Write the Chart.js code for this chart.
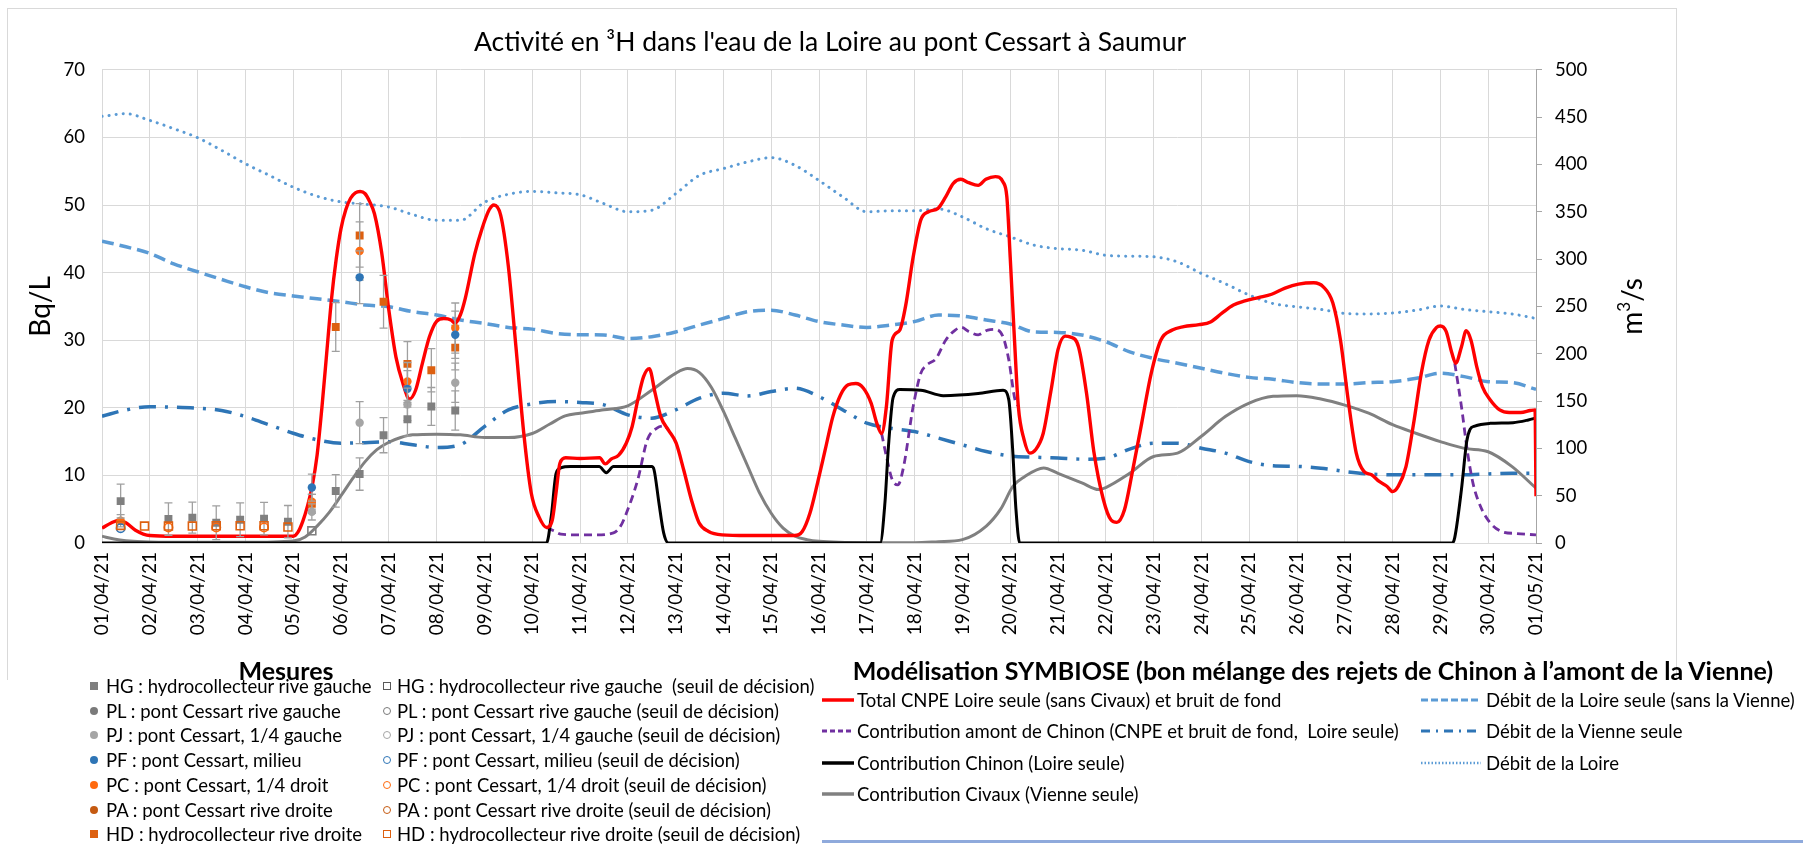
<!DOCTYPE html>
<html>
<head>
<meta charset="utf-8">
<script src="https://cdn.jsdelivr.net/npm/chart.js@4.4.1/dist/chart.umd.min.js"></script>
<style>
html,body{margin:0;padding:0;background:#fff;}
#wrap{position:relative;width:1803px;height:844px;overflow:hidden;background:#fff;}
#c{position:absolute;left:0;top:0;}
.t{position:absolute;font-family:Lato,sans-serif;font-size:18.5px;color:#000;white-space:pre;line-height:1;transform:translateY(-50%);}
.h{position:absolute;font-family:Lato,sans-serif;font-weight:bold;font-size:25px;color:#000;white-space:pre;line-height:1;transform:translate(-50%,-50%);}
.sym{position:absolute;box-sizing:border-box;}
.ln{position:absolute;background:#D9D9D9;}
svg{position:absolute;overflow:visible;}
</style>
</head>
<body>
<div id="wrap">
<canvas id="c" width="1803" height="844"></canvas>
<div id="legend"></div>
</div>
<script>
// ---------- tick labels ----------
const tickLabels = ['01/04/21','02/04/21','03/04/21','04/04/21','05/04/21','06/04/21','07/04/21','08/04/21','09/04/21','10/04/21',
  '11/04/21','12/04/21','13/04/21','14/04/21','15/04/21','16/04/21','17/04/21','18/04/21','19/04/21','20/04/21',
  '21/04/21','22/04/21','23/04/21','24/04/21','25/04/21','26/04/21','27/04/21','28/04/21','29/04/21','30/04/21','01/05/21'];

// ---------- model: Total CNPE Loire seule (Bq/L) ----------
const totalDays = [0,0.2,0.35,0.5,0.7,1,1.5,2,3,4,4.1,4.2,4.3,4.4,4.5,4.6,4.7,4.8,4.9,5,5.1,5.2,5.3,5.4,5.5,5.6,5.7,5.85,6,6.15,6.3,6.43,6.56,6.7,6.85,7,7.15,7.3,7.38,7.5,7.6,7.8,7.95,8.1,8.2,8.34,8.5,8.66,8.82,8.98,9.14,9.3,9.42,9.5,9.58,9.7,10,10.41,10.53,10.65,10.81,10.97,11.09,11.21,11.33,11.45,11.57,11.69,11.85,12.01,12.17,12.33,12.49,12.69,12.97,13.5,14,14.49,14.65,14.81,14.97,15.13,15.29,15.45,15.61,15.77,15.93,16.09,16.21,16.31,16.41,16.53,16.69,16.81,16.97,17.13,17.29,17.49,17.65,17.81,17.97,18.13,18.33,18.49,18.69,18.85,18.93,19,19.09,19.17,19.29,19.41,19.53,19.69,19.85,20,20.15,20.25,20.43,20.6,20.75,20.95,21.11,21.23,21.39,21.55,21.75,21.95,22.15,22.39,22.63,22.95,23.19,23.43,23.67,23.91,24.19,24.47,24.75,25.03,25.35,25.55,25.75,25.91,26.07,26.24,26.4,26.56,26.72,26.88,27,27.12,27.28,27.44,27.6,27.76,27.92,28,28.12,28.24,28.32,28.44,28.54,28.64,28.76,28.88,29.04,29.24,29.44,29.68,29.88,29.98,30];
const totalBq = [2.2,3.0,3.35,3.0,1.9,1.1,1.0,1.0,1.0,1.0,1.6,3.2,5.5,8.5,13,20,28,36,42,46.5,49.3,51,51.8,52,51.7,50.5,48.7,43,34.5,27.5,23.5,21.3,22.6,26.5,30.5,32.8,33.2,33.0,32.5,33.8,36.2,42.8,46.5,49.3,50.0,48.5,41,29,16.5,7.4,3.9,2.3,3.4,7.5,11.8,12.6,12.5,12.6,11.7,12.4,13.0,14.8,17.2,21.2,24.6,25.8,22.2,18.7,16.7,14.8,10.8,6.4,3.0,1.7,1.2,1.1,1.1,1.1,1.7,4.4,8.9,13.8,18.7,21.9,23.4,23.6,22.9,20.7,17.7,16.2,20.2,30.0,31.5,35.0,42.3,47.8,49.0,49.5,51.2,53.2,53.8,53.3,52.9,53.8,54.2,53.4,51.2,42.3,30,20.2,15.3,13.3,13.8,16.2,22.4,28.6,30.6,30.5,29.0,22.0,13.5,6.4,3.4,3.05,4.9,10.3,17.7,25.1,30.0,31.5,32.0,32.3,32.7,34.0,35.2,35.8,36.3,36.8,37.7,38.3,38.5,37.9,35.5,30.0,21.2,13.3,10.6,10.1,9.1,8.4,7.6,8.4,11.3,17.7,25.1,30.0,31.9,32.1,31.3,28.1,26.6,29.0,31.4,30.0,26.1,23.1,21.2,19.7,19.3,19.3,19.6,19.7,6.9];

// ---------- model: Contribution Chinon (Bq/L) ----------
const chinonDays = [0,9.3,9.4,9.5,9.6,9.8,10.4,10.55,10.7,11.5,11.55,11.65,11.75,11.85,16.28,16.38,16.45,16.55,16.69,17.13,17.6,18.33,18.85,18.97,19.05,19.12,19.2,28.25,28.3,28.44,28.55,28.62,28.72,29.04,29.52,29.84,30];
const chinonBq = [0,0,4,10.3,11.1,11.3,11.3,10.4,11.3,11.3,10.8,6,1.5,0,0,6,14,21.5,22.7,22.6,21.8,22.1,22.6,21.2,14,5,0,0,0.8,7.9,15.0,16.8,17.3,17.7,17.8,18.2,18.5];

// ---------- model: Contribution amont de Chinon (Bq/L), null = not shown ----------
const amontDays = [9.3,9.45,9.6,9.93,10.3,10.7,10.85,10.97,11.21,11.41,11.61,11.77,11.85,14,16.31,16.41,16.53,16.65,16.77,16.97,17.13,17.25,17.45,17.65,17.85,17.98,18.13,18.33,18.53,18.69,18.85,18.97,19.1,19.17,24,28.3,28.44,28.56,28.68,28.84,29.04,29.28,29.6,30];
const amontBq = [2.3,1.8,1.3,1.2,1.2,1.5,2.5,4.4,9.4,15.3,17.0,17.3,16.7,null,16.2,12.8,9.4,8.6,11.3,20.2,25.1,26.3,27.3,30.0,31.5,31.9,31.3,30.8,31.5,31.6,30.5,27.1,21.2,20.2,null,26.6,20.2,13.8,8.9,5.4,3.0,1.7,1.4,1.2];

// ---------- model: Contribution Civaux (Bq/L) ----------
const civauxDays = [0,0.25,0.5,1,2,3,4,4.25,4.5,4.75,5,5.25,5.5,5.75,6,6.25,6.5,7,7.5,8,8.5,9,9.37,9.69,10,10.5,11,11.5,12,12.25,12.5,12.75,13,13.25,13.5,13.75,14,14.25,14.5,14.75,15,16,17,17.5,18,18.5,18.8,19.06,19.3,19.7,20,20.5,20.85,21,21.5,22,22.5,23,23.5,24,24.5,25,25.5,26,26.5,27,27.5,28,28.5,29,29.5,30];
const civauxBq = [1.0,0.6,0.35,0.15,0.1,0.1,0.3,0.9,2.5,4.5,7.0,9.6,12.0,13.8,14.9,15.6,16.0,16.1,16.0,15.6,15.6,16.2,17.6,18.8,19.2,19.7,20.3,22.6,25.1,25.8,25.2,23.0,19.5,15.5,11.5,7.5,4.4,2.2,1.0,0.5,0.25,0.05,0.05,0.2,0.5,2.5,5.0,8.4,9.8,11.1,10.3,8.9,7.9,8.2,10.3,12.8,13.3,15.8,18.7,20.7,21.7,21.8,21.3,20.4,19.2,17.5,16.2,15.0,14.0,13.5,11.3,8.1];

// ---------- flows (m3/s), every half day ----------
const flowDays = [0,0.5,1,1.5,2,2.5,3,3.5,4,4.5,5,5.5,6,6.5,7,7.5,8,8.5,9,9.5,10,10.5,11,11.5,12,12.5,13,13.5,14,14.5,15,15.5,16,16.5,17,17.5,18,18.5,19,19.5,20,20.5,21,21.5,22,22.5,23,23.5,24,24.5,25,25.5,26,26.5,27,27.5,28,28.5,29,29.5,30];
const loireSeuleQ = [319,313,306,295,286.6,278.5,270.7,264.4,261,258,255,251.4,249.6,244.4,240.9,235.6,232,227.8,226,221.5,220,219.8,216,218,223,230.3,237.3,244.4,246,240.9,234,230.3,227.8,230.3,234,240.9,239.8,235.6,231.4,223,222.5,219.8,212.7,202,195,190,184.6,179.3,175,173,169.5,168,168,169.5,170.5,174,179.3,175.8,170.5,169.5,162.4];
const vienneQ = [134,140.6,144,143.5,142.4,140,133.6,124.8,116,109,105.5,106,107,103.7,101,104,123,140.6,147,149.4,148.5,146,135.4,131.9,140.6,153,158.2,155.4,160,163.5,154.7,140.6,126.6,121.3,117.8,110.8,103.7,96.7,92,90.7,89.7,88.6,89.7,99.2,105.5,105.5,100.2,95,86,81.6,81,79,75.6,73,72,72,72,72,73,73.8,73.8];
const loireQ = [450.8,453.6,446.5,437.8,428.3,415,400.8,388.5,376,366.4,360.4,358,355,347,341,341,360,368.5,371.5,370,368,358.6,350,351.6,369,388.5,395.6,402.6,407.2,399,383,365.7,350,351,351,353,344.6,332,323.5,314.7,311,309.4,304,303,302.4,297,284.8,274,262,253,249.6,246.8,242.6,242,243,246,250.4,246.8,244.4,242,237.3];

// ---------- measurements (Bq/L) ----------
const mesDays = [0.39,0.89,1.39,1.89,2.39,2.89,3.39,3.89,4.39,4.89,5.39,5.89,6.39,6.89,7.39];
const hgBq  = [6.2,null,3.55,3.75,3.0,3.45,3.6,3.15,null,7.7,10.2,15.95,18.3,20.2,19.6];
const hgErr = [2.5,null,2.4,2.3,2.5,2.5,2.4,2.4,null,2.4,2.4,2.6,2.5,2.8,2.9];
const pjBq  = [null,null,null,null,null,null,null,null,4.6,null,17.8,null,20.5,null,23.7];
const pjErr = [null,null,null,null,null,null,null,null,1.2,null,3.1,null,2.4,null,2.9];
const pfBq  = [null,null,null,null,null,null,null,null,8.2,null,39.3,null,22.8,null,30.8];
const pfErr = [null,null,null,null,null,null,null,null,2.0,null,3.9,null,2.7,null,3.5];
const pcBq  = [3.3,null,null,null,null,null,null,null,6.1,null,43.2,null,23.9,null,31.8];
const pcErr = [0.9,null,null,null,null,null,null,null,1.1,null,4.3,null,2.8,null,3.7];
const hdBq  = [null,null,null,null,null,null,null,null,5.8,31.95,45.5,35.7,26.5,25.55,28.9];
const hdErr = [null,null,null,null,null,null,null,null,1.4,3.6,4.7,3.9,3.3,3.2,3.3];
// seuil de décision (hollow markers)
const hgSeuil = [null,null,null,null,null,null,null,null,1.8,null,null,null,null,null,null];
const pfSeuil = [2.2,null,null,null,null,null,null,null,null,null,null,null,null,null,null];
const pcSeuil = [null,null,2.3,null,2.3,null,2.3,null,null,null,null,null,null,null,null];
const hdSeuil = [2.6,2.5,2.5,2.5,2.55,2.55,2.55,2.35,null,null,null,null,null,null,null];

// ---------- legend texts ----------
const mesuresTitle = 'Mesures';
const mesuresLabels = ['HG : hydrocollecteur rive gauche','PL : pont Cessart rive gauche','PJ : pont Cessart, 1/4 gauche','PF : pont Cessart, milieu','PC : pont Cessart, 1/4 droit','PA : pont Cessart rive droite','HD : hydrocollecteur rive droite'];
const seuilLabels = ['HG : hydrocollecteur rive gauche  (seuil de décision)','PL : pont Cessart rive gauche (seuil de décision)','PJ : pont Cessart, 1/4 gauche (seuil de décision)','PF : pont Cessart, milieu (seuil de décision)','PC : pont Cessart, 1/4 droit (seuil de décision)','PA : pont Cessart rive droite (seuil de décision)','HD : hydrocollecteur rive droite (seuil de décision)'];
const modelTitle = 'Modélisation SYMBIOSE (bon mélange des rejets de Chinon à l’amont de la Vienne)';
const modelLabels = ['Total CNPE Loire seule (sans Civaux) et bruit de fond','Contribution amont de Chinon (CNPE et bruit de fond,  Loire seule)','Contribution Chinon (Loire seule)','Contribution Civaux (Vienne seule)'];
const flowLabels = ['Débit de la Loire seule (sans la Vienne)','Débit de la Vienne seule','Débit de la Loire'];

// ---------- styles ----------
const C = {
  hg:'#7F7F7F', pl:'#7A7A7A', pj:'#A5A5A5', pf:'#2E75B6', pc:'#FF6A0F', pa:'#C55A11', hd:'#DD6010',
  total:'#FF0000', amont:'#7030A0', chinon:'#000000', civaux:'#808080', qLoireSeule:'#5B9BD5', qVienne:'#2E75B6', qLoire:'#5B9BD5'
};
const mesColors = [C.hg,C.pl,C.pj,C.pf,C.pc,C.pa,C.hd];
const mesShapes = ['square','circle','circle','circle','circle','circle','square'];

const pts = (xs, ys) => xs.map((x, i) => ({x: x, y: ys[i]}));

function lineDs(label, xs, ys, color, width, dash, axis, order, cap) {
  return {label, data: pts(xs, ys), borderColor: color, backgroundColor: color, borderWidth: width,
    borderDash: dash || [], borderCapStyle: cap || 'butt', pointRadius: 0, fill: false,
    cubicInterpolationMode: 'monotone', yAxisID: axis, order, spanGaps: false};
}
function markDs(label, ys, errs, color, style, hollow) {
  const sq = style === 'rect';
  return {label, data: pts(mesDays, ys), errors: errs, showLine: false, pointStyle: style,
    pointRadius: sq ? 5.6 : 4.2, pointHoverRadius: sq ? 5.6 : 4.2,
    backgroundColor: hollow ? 'rgba(255,255,255,0)' : color, borderColor: color,
    borderWidth: hollow ? 1.6 : 0, yAxisID: 'y', order: 0};
}

const datasets = [
  lineDs('Débit de la Loire', flowDays, loireQ, C.qLoire, 3, [0.1, 7], 'y1', 9, 'round'),
  lineDs('Débit de la Loire seule (sans la Vienne)', flowDays, loireSeuleQ, C.qLoireSeule, 3.5, [12, 6], 'y1', 8),
  lineDs('Débit de la Vienne seule', flowDays, vienneQ, C.qVienne, 3.5, [17, 9, 3, 9], 'y1', 7),
  lineDs('Contribution Civaux (Vienne seule)', civauxDays, civauxBq, C.civaux, 3, null, 'y', 6),
  lineDs('Contribution amont de Chinon', amontDays, amontBq, C.amont, 2.8, [8, 5], 'y', 5),
  lineDs('Contribution Chinon (Loire seule)', chinonDays, chinonBq, C.chinon, 3, null, 'y', 4),
  lineDs('Total CNPE Loire seule', totalDays, totalBq, C.total, 3.4, null, 'y', 3),
  markDs('HD seuil', hdSeuil, null, C.hd, 'rect', true),
  markDs('PC seuil', pcSeuil, null, C.pc, 'circle', true),
  markDs('PF seuil', pfSeuil, null, C.pf, 'circle', true),
  markDs('HG seuil', hgSeuil, null, C.hg, 'rect', true),
  markDs('HG', hgBq, hgErr, C.hg, 'rect', false),
  markDs('PJ', pjBq, pjErr, C.pj, 'circle', false),
  markDs('PF', pfBq, pfErr, C.pf, 'circle', false),
  markDs('PC', pcBq, pcErr, C.pc, 'circle', false),
  markDs('HD', hdBq, hdErr, C.hd, 'rect', false)
];

const errorBars = {
  id: 'errorBars',
  beforeDatasetDraw(chart, args) {
    const ds = chart.data.datasets[args.index];
    if (!ds.errors) return;
    const ctx = chart.ctx, xs = chart.scales.x, ys = chart.scales.y;
    ctx.save();
    ctx.strokeStyle = '#A0A0A0';
    ctx.lineWidth = 1.3;
    ds.data.forEach((p, i) => {
      const e = ds.errors[i];
      if (p.y == null || e == null) return;
      const px = xs.getPixelForValue(p.x);
      const y1 = ys.getPixelForValue(p.y + e), y2 = ys.getPixelForValue(Math.max(0, p.y - e));
      ctx.beginPath();
      ctx.moveTo(px, y1); ctx.lineTo(px, y2);
      ctx.moveTo(px - 4, y1); ctx.lineTo(px + 4, y1);
      ctx.moveTo(px - 4, y2); ctx.lineTo(px + 4, y2);
      ctx.stroke();
    });
    ctx.restore();
  }
};

const rightTitle = {
  id: 'rightTitle',
  afterDraw(chart) {
    const ctx = chart.ctx, s = chart.scales.y1;
    ctx.save();
    ctx.translate(1633, (s.top + s.bottom) / 2);
    ctx.rotate(-Math.PI / 2);
    ctx.fillStyle = '#000';
    ctx.textBaseline = 'middle';
    ctx.font = '28px Lato';
    const w1 = ctx.measureText('m').width, w2 = ctx.measureText('/s').width;
    ctx.font = '17px Lato';
    const w3 = ctx.measureText('3').width;
    let x = -(w1 + w2 + w3) / 2;
    ctx.textAlign = 'left';
    ctx.font = '28px Lato';
    ctx.fillText('m', x, 0); x += w1;
    ctx.font = '17px Lato';
    ctx.fillText('3', x, -8); x += w3;
    ctx.font = '28px Lato';
    ctx.fillText('/s', x, 0);
    ctx.restore();
  }
};

Chart.defaults.font.family = 'Lato, sans-serif';
Chart.defaults.color = '#000';

new Chart(document.getElementById('c'), {
  type: 'line',
  data: {datasets},
  options: {
    responsive: false,
    devicePixelRatio: 1,
    animation: false,
    layout: {padding: {left: 0, right: 143, top: 0, bottom: 201}},
    plugins: {
      legend: {display: false},
      tooltip: {enabled: false},
      title: {display: true, text: 'Activité en ³H dans l\'eau de la Loire au pont Cessart à Saumur',
        font: {size: 26.5, weight: 'normal'}, color: '#000', padding: {top: 27, bottom: 11}}
    },
    scales: {
      x: {
        type: 'linear', min: 0, max: 30,
        grid: {color: '#D9D9D9', drawTicks: false},
        border: {color: '#D9D9D9'},
        ticks: {stepSize: 1, autoSkip: false, minRotation: 90, maxRotation: 90, padding: 9,
          font: {size: 19}, color: '#000', callback: (v) => tickLabels[v]},
        afterFit: (s) => { s.height = 100; }
      },
      y: {
        position: 'left', min: 0, max: 70,
        grid: {color: '#D9D9D9', drawTicks: false},
        border: {display: false},
        ticks: {stepSize: 10, padding: 17, font: {size: 18.5}, color: '#000'},
        title: {display: true, text: 'Bq/L', font: {size: 28}, color: '#000', padding: {top: 24, bottom: 0}},
        afterFit: (s) => { s.width = 102; }
      },
      y1: {
        position: 'right', min: 0, max: 500,
        grid: {drawOnChartArea: false, drawTicks: true, tickLength: 6, color: '#A6A6A6'},
        border: {display: true, color: '#A6A6A6'},
        ticks: {stepSize: 50, padding: 13, font: {size: 18.5}, color: '#000'},
        afterFit: (s) => { s.width = 124; }
      }
    }
  },
  plugins: [errorBars, rightTitle]
});

// ---------- HTML legend ----------
const L = document.getElementById('legend');
function add(html) { L.insertAdjacentHTML('beforeend', html); }
function esc(s) { return s.replace(/&/g,'&amp;').replace(/</g,'&lt;'); }

// chart frame
add('<div class="ln" style="left:7px;top:8px;width:1px;height:672px"></div>');
add('<div class="ln" style="left:7px;top:8px;width:1670px;height:1px"></div>');
add('<div class="ln" style="left:1676px;top:8px;width:1px;height:672px"></div>');

add('<div class="h" style="left:286px;top:670px">' + esc(mesuresTitle) + '</div>');
mesuresLabels.forEach((lab, i) => {
  const y = 686 + 24.7 * i, col = mesColors[i], sq = mesShapes[i] === 'square';
  const s = 8;
  add('<div class="sym" style="left:' + (94 - s/2) + 'px;top:' + (y - s/2) + 'px;width:' + s + 'px;height:' + s + 'px;background:' + col + ';border-radius:' + (sq ? '0' : '50%') + '"></div>');
  add('<div class="t" style="left:106px;top:' + y + 'px">' + esc(lab) + '</div>');
  add('<div class="sym" style="left:' + (387 - s/2) + 'px;top:' + (y - s/2) + 'px;width:' + s + 'px;height:' + s + 'px;border:1.5px solid ' + (i === 0 ? '#595959' : col) + ';border-radius:' + (sq ? '0' : '50%') + '"></div>');
  add('<div class="t" style="left:397px;top:' + y + 'px">' + esc(seuilLabels[i]) + '</div>');
});

add('<div class="h" style="left:1313px;top:670px">' + esc(modelTitle) + '</div>');
const modelStyles = [
  {c: C.total, w: 3.5, d: ''}, {c: C.amont, w: 3, d: '5,3'}, {c: C.chinon, w: 3.5, d: ''}, {c: C.civaux, w: 3.5, d: ''}
];
modelLabels.forEach((lab, i) => {
  const y = 700 + 31.3 * i, st = modelStyles[i];
  add('<svg style="left:822px;top:' + (y - 5) + 'px" width="32" height="10"><line x1="0" y1="5" x2="32" y2="5" stroke="' + st.c + '" stroke-width="' + st.w + '"' + (st.d ? ' stroke-dasharray="' + st.d + '"' : '') + '/></svg>');
  add('<div class="t" style="left:857px;top:' + y + 'px">' + esc(lab) + '</div>');
});
const flowStyles = [
  {c: C.qLoireSeule, w: 3, d: '7,3', cap: 'butt'}, {c: C.qVienne, w: 3, d: '9,6,2,6', cap: 'butt'}, {c: C.qLoire, w: 2.5, d: '1.5,2', cap: 'butt'}
];
flowLabels.forEach((lab, i) => {
  const y = 700 + 31.3 * i, st = flowStyles[i];
  add('<svg style="left:1421px;top:' + (y - 5) + 'px" width="60" height="10"><line x1="0" y1="5" x2="60" y2="5" stroke="' + st.c + '" stroke-width="' + st.w + '" stroke-dasharray="' + st.d + '" stroke-linecap="' + st.cap + '"/></svg>');
  add('<div class="t" style="left:1486px;top:' + y + 'px">' + esc(lab) + '</div>');
});
add('<div style="position:absolute;left:822px;top:840px;width:981px;height:3px;background:#8FAADC"></div>');
</script>
</body>
</html>
